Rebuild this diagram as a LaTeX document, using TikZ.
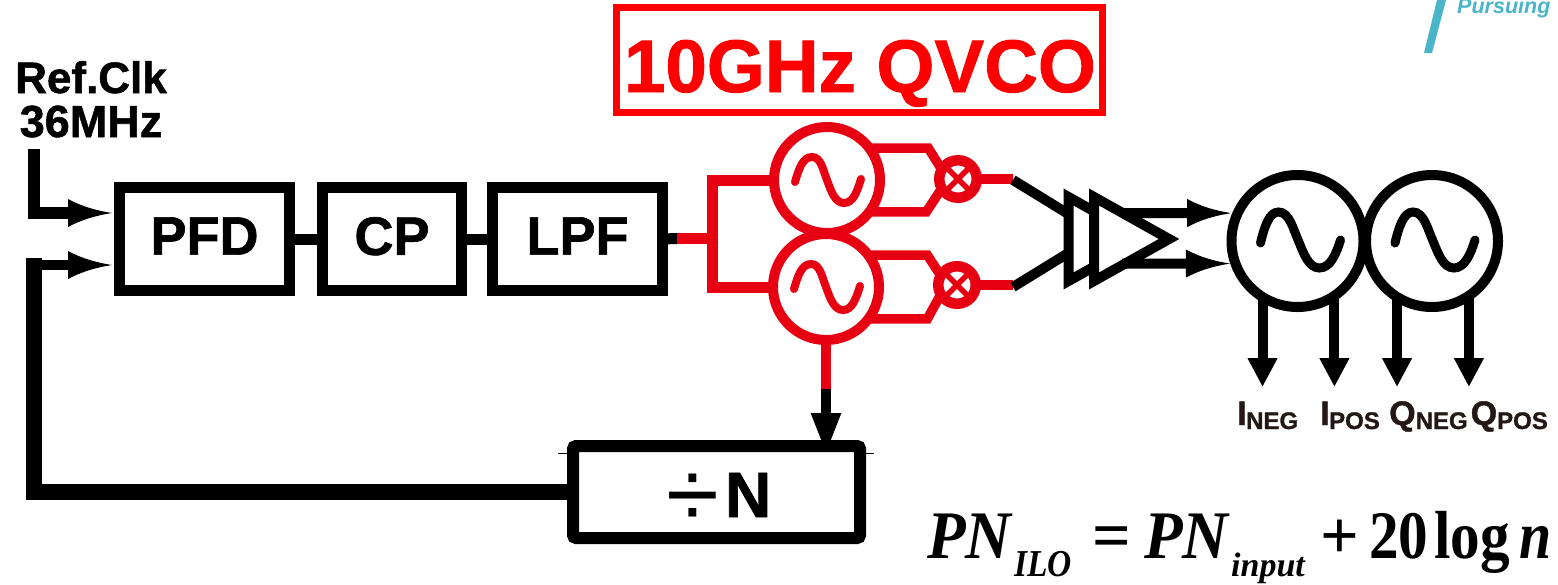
\documentclass[tikz,border=0pt]{standalone}
\usepackage{graphicx}
\usepackage{fontspec}
\setmainfont{Liberation Sans}[BoldFeatures={FakeBold=1.2}]
\newfontfamily\tnr{Liberation Serif}
\usetikzlibrary{arrows.meta,shapes.geometric,calc}
\newcommand\fs[1]{\fontsize{#1}{#1}\selectfont}
\pgfdeclarearrow{
  name=Dart,
  parameters={\the\pgfarrowlength,\the\pgfarrowwidth},
  setup code={
    \pgfarrowssettipend{0pt}
    \pgfarrowssetbackend{-\pgfarrowlength}
    \pgfarrowssetlineend{-0.9\pgfarrowlength}
    \pgfarrowssetvisualbackend{-0.9\pgfarrowlength}
    \pgfarrowssavethe\pgfarrowlength
    \pgfarrowssavethe\pgfarrowwidth
  },
  drawing code={
    \pgfpathmoveto{\pgfqpoint{0pt}{0pt}}
    \pgfpathcurveto{\pgfqpoint{-.4\pgfarrowlength}{.1\pgfarrowwidth}}{\pgfqpoint{-.7\pgfarrowlength}{.25\pgfarrowwidth}}{\pgfqpoint{-\pgfarrowlength}{.5\pgfarrowwidth}}
    \pgfpathlineto{\pgfqpoint{-\pgfarrowlength}{-.5\pgfarrowwidth}}
    \pgfpathcurveto{\pgfqpoint{-.7\pgfarrowlength}{-.25\pgfarrowwidth}}{\pgfqpoint{-.4\pgfarrowlength}{-.1\pgfarrowwidth}}{\pgfqpoint{0pt}{0pt}}
    \pgfpathclose
    \pgfusepathqfill
  },
  defaults={length=44pt,width=28pt}
}
\definecolor{vred}{HTML}{E60012}
\definecolor{tred}{HTML}{FF0000}
\definecolor{teal1}{HTML}{4AB4C8}
\definecolor{ink}{HTML}{231815}
\tikzset{
  blockbox/.style={draw=black,line width=11pt,fill=white,minimum width=170pt,minimum height=103pt,inner sep=0pt,outer sep=0pt,font=\bfseries\fs{54},text depth=6pt},
  wire/.style={draw=black,line width=11pt},
  redwire/.style={draw=vred,line width=10.5pt},
  vco/.style={circle,draw=vred,line width=10pt,fill=white,minimum size=106pt,inner sep=0pt,outer sep=0pt},
  osc/.style={circle,draw=black,line width=10pt,fill=white,minimum size=132pt,inner sep=0pt,outer sep=0pt},
  mixer/.style={circle,draw=vred,line width=10.5pt,fill=white,minimum size=37.5pt,inner sep=0pt,outer sep=0pt},
  buf/.style={isosceles triangle,isosceles triangle stretches,shape border rotate=0,draw=black,line width=10pt,fill=white,minimum width=84pt,minimum height=75pt,inner sep=0pt,outer sep=0pt,anchor=lower side},
  sub/.style={inner sep=0pt,anchor=base west,text=ink,font=\bfseries},
  eq/.style={inner sep=0pt,anchor=base west,text=black,font=\tnr\bfseries},
  dart/.style={-{Dart[length=44pt,width=28pt]}},
  down/.style={wire,line width=10pt,-{Triangle[length=29pt,width=28pt]}},
  sinewave/.style={line width=8pt,line cap=round},
}
\newcommand\redsine{(-32,2) .. controls (-28,-12) and (-24,-23) .. (-15,-23) .. controls (-6,-23) and (-4,-10) .. (0,0) .. controls (4,11) and (8,23) .. (17,23) .. controls (26,23) and (30,12) .. (34,-1)}
\newcommand\blacksine{(-37,2) .. controls (-33,-15) and (-28,-29) .. (-19,-29) .. controls (-8,-29) and (-4,-11) .. (1,0) .. controls (6,12) and (11,27) .. (22,27) .. controls (33,27) and (39,12) .. (43,-1)}
\begin{document}
\begin{tikzpicture}[x=1pt,y=-1pt]
\useasboundingbox (0,0) rectangle (1558,584);
\fill[white] (0,0) rectangle (1558,584);

% corner logo
\fill[teal1] (1437,0) -- (1446,0) -- (1432,53) -- (1424,53) -- cycle;
\node[inner sep=0pt,anchor=base west,text=teal1,font=\bfseries\itshape\fs{21.5}] (motto) at (1457,13) {Pursuing};

% title
\node[draw=tred,line width=7pt,minimum width=486pt,minimum height=105pt,inner sep=0pt,outer sep=0pt] (title) at (859.5,60) {};
\node[inner sep=0pt,anchor=base,text=tred,font=\bfseries\fs{74.5}] (titletext) at (860,92) {10GHz QVCO};

% reference label
\node[inner sep=0pt,anchor=base,font=\bfseries\fs{44}] (ref) at (91,93) {Ref.Clk};
\node[inner sep=0pt,anchor=base,font=\bfseries\fs{45}] (freq) at (91,137) {36MHz};

% blocks
\node[blockbox] (pfd) at (204.5,239) {PFD};
\node[blockbox,minimum width=139pt] (cp) at (392,239) {CP};
\node[blockbox] (lpf) at (577.5,239) {LPF};
\draw[wire] (pfd.east) -- (cp.west);
\draw[wire] (cp.east) -- (lpf.west);

% QVCO
\node[vco] (v1) at (827,180) {};
\node[vco] (v2) at (826,287) {};
\node[mixer] (m1) at (958,179) {};
\node[mixer] (m2) at (957,285) {};
\draw[sinewave,draw=vred,shift={(v1.center)}] \redsine;
\draw[sinewave,draw=vred,shift={(v2.center)}] \redsine;
\foreach \m in {m1,m2}{
  \draw[draw=vred,line width=5.5pt] (\m.45) -- (\m.225);
  \draw[draw=vred,line width=5.5pt] (\m.135) -- (\m.315);
}
\coordinate (stub) at (677,238.5);
\coordinate (junc) at (712.7,238.5);
\draw[wire] (lpf.east) -- (stub);
\draw[redwire,line width=11pt] (stub) -- (junc);
\draw[redwire,line width=11pt] (v1.west) -| (junc) |- (v2.west);
\draw[redwire,line width=9.5pt] (v1.37) -- ++(59,0) -- (m1.150);
\draw[redwire,line width=9.5pt] (v1.-37) -- ++(57,0) -- (m1.210);
\draw[redwire,line width=9.5pt] (v2.37) -- ++(59,0) -- (m2.150);
\draw[redwire,line width=9.5pt] (v2.-37) -- ++(59,0) -- (m2.210);
\coordinate (o1) at (1013,179);
\coordinate (o2) at (1013,285);
\draw[redwire,line width=9.5pt] (m1.east) -- (o1);
\draw[redwire,line width=9.5pt] (m2.east) -- (o2);
\coordinate (vdrop) at (826,389);
\coordinate (vtip) at (826,455);
\draw[redwire,line width=10.5pt] (v2.south) -- (vdrop);
\draw[wire,line width=10.5pt,-{Triangle[length=42pt,width=27pt]}] (vdrop) -- (vtip);

% divider
\draw[line width=1pt] (558,453) -- (874,453);
\node[draw=black,line width=12pt,rounded corners=3pt,fill=white,minimum width=287pt,minimum height=92pt,inner sep=0pt,outer sep=0pt,font=\bfseries,text height=50pt,text depth=0pt] (div) at (716.5,492) {\hspace*{5pt}\smash{\raisebox{-10pt}{\mdseries\fs{96}÷}}\hspace{5.5pt}\fs{64}N};

% input arrows
\coordinate (refstart) at (34,149);
\coordinate (refcorner) at (34,213);
\coordinate (tipa) at (112,213);
\coordinate (tipb) at (112,265);
\coordinate (fbcorner) at (34,265);
\draw[wire,line width=11.5pt] (refstart) -- (refcorner) -- ++(40,0);
\draw[wire,line width=11pt,dart] (refcorner) -- (tipa);
\draw[wire,line width=16pt] (div.west) -| (34,258);
\draw[wire,line width=10.5pt,dart] (26,265) -- (tipb);

% buffer
\coordinate (ba) at (1070,215);
\coordinate (bb) at (1070,252);
\draw[wire,line width=10pt] (o1) ++(0,1) -- (ba);
\draw[wire,line width=10pt] (o2) ++(0,2) -- (bb);
\node[buf] (bufa) at (1068.5,239) {};
\node[buf] (bufb) at (1094,239) {};

% output oscillators
\node[osc] (q1) at (1297.5,241) {};
\node[osc] (q2) at (1432,241) {};
\draw[sinewave,line width=9pt,shift={(q1.center)}] \blacksine;
\draw[sinewave,line width=9pt,shift={(q2.center)}] \blacksine;
\coordinate (ob1) at (1122,213);
\coordinate (ob2) at (1122,263.6);
\draw[wire,line width=10pt,dart,shorten >=6.5pt] (ob1) -- (q1.155);
\draw[wire,line width=10pt,dart,shorten >=5.5pt] (ob2) -- (q1.200);
\coordinate (yd) at (0,387);
\draw[down] (q1.238.5) -- (q1.238.5 |- yd);
\draw[down] (q1.-56.4) -- (q1.-56.4 |- yd);
\draw[down] (q2.238.5) -- (q2.238.5 |- yd);
\draw[down] (q2.-56) -- (q2.-56 |- yd);

% output labels
\node[sub] (ineg) at (1237,425) {\fs{34}I\raisebox{-4pt}{\hspace{-.5pt}\fs{24}NEG}};
\node[sub] (ipos) at (1320,425) {\fs{34}I\raisebox{-4pt}{\hspace{-.5pt}\fs{24}POS}};
\node[sub] (qneg) at (1389,425) {\fs{34}Q\raisebox{-4pt}{\fs{24}NEG}};
\node[sub] (qpos) at (1470.5,425) {\fs{34}Q\raisebox{-4pt}{\fs{24}POS}};

% formula
\node[eq] (e1) at (927,558) {\itshape\fs{68}\scalebox{.93}[1]{PN}};
\node[eq] (e2) at (1014,576) {\itshape\fs{38}\scalebox{.88}[1]{ILO}};
\node[eq] (e3) at (1092,558) {\fs{68}=};
\node[eq] (e4) at (1144,558) {\itshape\fs{68}\scalebox{.93}[1]{PN}};
\node[eq] (e5) at (1231,576) {\itshape\fs{34}input};
\node[eq] (e6) at (1320,558) {\fs{68}+};
\node[eq] (e7) at (1369,558) {\fs{68}\scalebox{.87}[1]{20}};
\node[eq] (e8) at (1434,558) {\fs{68}\scalebox{.87}[1]{log}};
\node[eq] (e9) at (1519,558) {\itshape\fs{68}\scalebox{.85}[1]{n}};
\end{tikzpicture}
\end{document}
